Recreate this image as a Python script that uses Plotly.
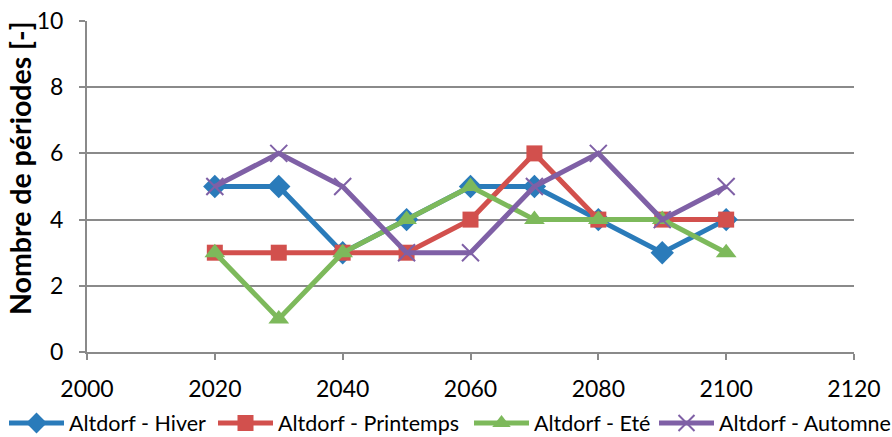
import plotly.graph_objects as go

years = [2020, 2030, 2040, 2050, 2060, 2070, 2080, 2090, 2100]
hiver = [5, 5, 3, 4, 5, 5, 4, 3, 4]
printemps = [3, 3, 3, 3, 4, 6, 4, 4, 4]
ete = [3, 1, 3, 4, 5, 4, 4, 4, 3]
automne = [5, 6, 5, 3, 3, 5, 6, 4, 5]

series = [
    ("Altdorf - Hiver", hiver, "#2A7BBA", "diamond", 18),
    ("Altdorf - Printemps", printemps, "#D2504D", "square", 16),
    ("Altdorf - Eté", ete, "#7DB95B", "triangle-up", 18),
    ("Altdorf - Automne", automne, "#7F60A6", "x-thin-open", 17),
]
legend_x_px = [4, 213, 469, 654]

FONT = "Lato"
GRID = "#8A8A8A"
W, H = 892, 437
PLOT_L, PLOT_B, PLOT_W, PLOT_H = 87, 352, 767, 331

fig = go.Figure()
legend_layout = {}
for i, (name, vals, col, sym, sz) in enumerate(series):
    mk = dict(symbol=sym, size=sz, color=col)
    if sym == "x-thin-open":
        mk["line"] = dict(color=col, width=2)
    lname = "legend" if i == 0 else f"legend{i + 1}"
    fig.add_trace(go.Scatter(
        x=years, y=vals, name=name, mode="lines+markers",
        line=dict(color=col, width=5),
        marker=mk, legend=lname,
    ))
    legend_layout[lname] = dict(
        orientation="h", xref="container", yref="paper",
        x=legend_x_px[i] / W, y=-(423 - PLOT_B) / PLOT_H,
        xanchor="left", yanchor="middle",
        font=dict(size=21.5, family=FONT, color="#000000"), itemwidth=55,
        bgcolor="rgba(0,0,0,0)",
    )

fig.update_layout(
    width=W, height=H,
    margin=dict(l=PLOT_L, r=W - PLOT_L - PLOT_W, t=PLOT_B - PLOT_H,
                b=H - PLOT_B, autoexpand=False),
    paper_bgcolor="white", plot_bgcolor="white",
    font=dict(family=FONT, color="#000000", size=22),
    showlegend=True,
    xaxis=dict(
        range=[2000, 2120], dtick=20, tick0=2000,
        showgrid=False, showline=True, linecolor=GRID, linewidth=2,
        ticks="outside", ticklen=6, tickcolor=GRID, tickwidth=2,
        tickfont=dict(size=23, family=FONT), ticklabelstandoff=9,
        ticklabeloverflow="allow", zeroline=False,
    ),
    yaxis=dict(
        range=[0, 10], dtick=2, tick0=0,
        showgrid=True, gridcolor=GRID, gridwidth=1.5,
        showline=True, linecolor=GRID, linewidth=2,
        ticks="outside", ticklen=6, tickcolor=GRID, tickwidth=2,
        tickfont=dict(size=23, family=FONT), ticklabelstandoff=11,
        ticklabeloverflow="allow", zeroline=False,
    ),
    annotations=[dict(
        text="<b>Nombre de périodes [-]</b>", textangle=-90,
        xref="paper", yref="paper",
        x=(20 - PLOT_L) / PLOT_W, y=(PLOT_B - 168) / PLOT_H,
        xanchor="center", yanchor="middle", showarrow=False,
        font=dict(size=28.5, family=FONT, color="#000000"),
    )],
    **legend_layout,
)

fig.write_html("out.html", config={"displayModeBar": False},
               post_script="document.body.style.margin='0';")
